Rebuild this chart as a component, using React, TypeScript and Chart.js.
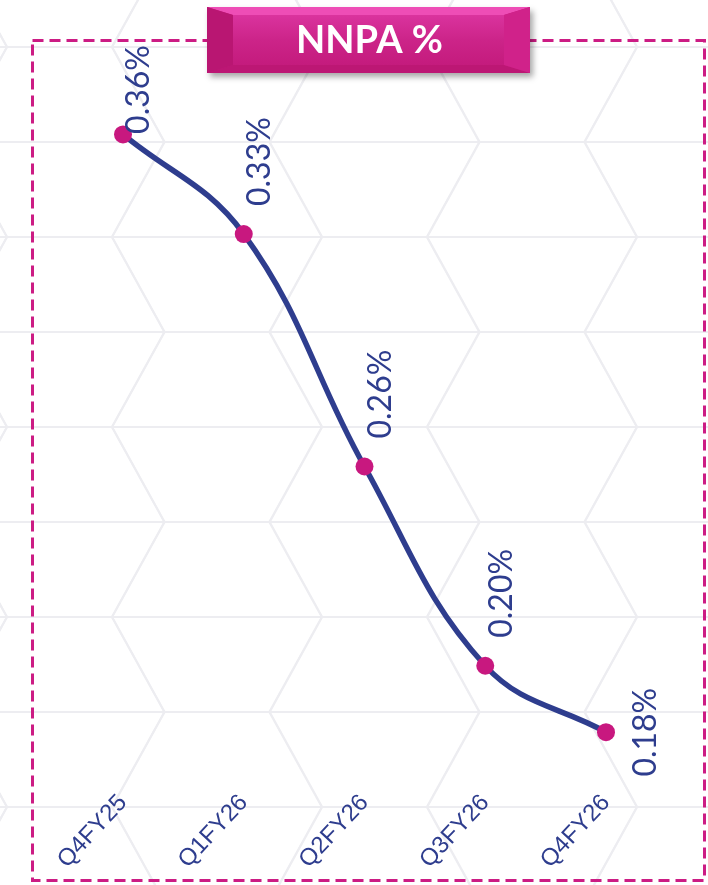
import React, { useEffect, useRef } from 'react';
import { Chart, registerables } from 'chart.js';

Chart.register(...registerables);

// ---- data ----
const categories: string[] = ['Q4FY25', 'Q1FY26', 'Q2FY26', 'Q3FY26', 'Q4FY26'];
const nnpaValues: number[] = [0.36, 0.33, 0.26, 0.2, 0.18];
const chartTitle = 'NNPA %';
const yMin = 0.165;
const yMax = 0.38;

const formatPct = (v: number) => v.toFixed(2) + '%';

// ---- styles ----
const BLUE = '#2E3D8E';
const MAGENTA = '#C8187F';
const HEX_LINE = '#EDEDF1';

const backgroundPlugin = {
  id: 'hexBackground',
  beforeDraw(chart: any) {
    const { ctx, width, height } = chart;
    ctx.save();
    ctx.fillStyle = '#FFFFFF';
    ctx.fillRect(0, 0, width, height);
    ctx.strokeStyle = HEX_LINE;
    ctx.lineWidth = 2;
    const S = 105;
    const H = 95;
    const cx0 = 217;
    const cy0 = 427;
    for (let k = -6; k <= 6; k++) {
      const y = cy0 + k * H;
      if (y < -5 || y > height + 5) continue;
      ctx.beginPath();
      ctx.moveTo(0, y);
      ctx.lineTo(width, y);
      ctx.stroke();
    }
    for (let a = -4; a <= 6; a++) {
      for (let b = -6; b <= 6; b++) {
        const cx = cx0 + a * 1.5 * S;
        const cy = cy0 + a * H + b * 2 * H;
        if (cx < -2 * S || cx > width + 2 * S || cy < -2 * H || cy > height + 2 * H) continue;
        ctx.beginPath();
        ctx.moveTo(cx - S, cy);
        ctx.lineTo(cx - S / 2, cy - H);
        ctx.lineTo(cx + S / 2, cy - H);
        ctx.lineTo(cx + S, cy);
        ctx.lineTo(cx + S / 2, cy + H);
        ctx.lineTo(cx - S / 2, cy + H);
        ctx.closePath();
        ctx.stroke();
      }
    }
    ctx.strokeStyle = '#CC1C84';
    ctx.lineWidth = 3;
    ctx.setLineDash([11, 6]);
    ctx.strokeRect(32.5, 40.5, 672, 840);
    ctx.restore();
  },
};

function poly(ctx: CanvasRenderingContext2D, pts: number[][], fill: string | CanvasGradient) {
  ctx.beginPath();
  ctx.moveTo(pts[0][0], pts[0][1]);
  for (let i = 1; i < pts.length; i++) ctx.lineTo(pts[i][0], pts[i][1]);
  ctx.closePath();
  ctx.fillStyle = fill;
  ctx.fill();
}

const titlePlugin = {
  id: 'titleBox',
  afterDraw(chart: any) {
    const ctx: CanvasRenderingContext2D = chart.ctx;
    const x = 207, y = 7, w = 323, h = 66;
    const bx = 26, by = 8;
    ctx.save();
    ctx.shadowColor = 'rgba(0,0,0,0.35)';
    ctx.shadowBlur = 6;
    ctx.shadowOffsetX = 3;
    ctx.shadowOffsetY = 4;
    ctx.fillStyle = '#C51B7D';
    ctx.fillRect(x, y, w, h);
    ctx.restore();
    ctx.save();
    poly(ctx, [[x, y], [x + w, y], [x + w - bx, y + by], [x + bx, y + by]], '#EE4DB6');
    poly(ctx, [[x, y + h], [x + w, y + h], [x + w - bx, y + h - by], [x + bx, y + h - by]], '#BC1774');
    poly(ctx, [[x, y], [x + bx, y + by], [x + bx, y + h - by], [x, y + h]], '#B91672');
    poly(ctx, [[x + w, y], [x + w - bx, y + by], [x + w - bx, y + h - by], [x + w, y + h]], '#D0228A');
    const g = ctx.createLinearGradient(0, y + by, 0, y + h - by);
    g.addColorStop(0, '#DA339E');
    g.addColorStop(0.5, '#CC2489');
    g.addColorStop(1, '#C41B7D');
    ctx.fillStyle = g;
    ctx.fillRect(x + bx, y + by, w - 2 * bx, h - 2 * by);
    ctx.fillStyle = '#FFFFFF';
    ctx.font = 'bold 38px Lato, "Open Sans", sans-serif';
    ctx.textAlign = 'center';
    ctx.textBaseline = 'middle';
    ctx.fillText(chartTitle, x + w / 2 + 1, y + h / 2 + 1);
    ctx.restore();
  },
};

const valueLabelPlugin = {
  id: 'valueLabels',
  afterDatasetsDraw(chart: any, _args: any, opts: any) {
    const ctx: CanvasRenderingContext2D = chart.ctx;
    const meta = chart.getDatasetMeta(0);
    ctx.save();
    ctx.font = `${opts.size}px ${opts.family}`;
    ctx.fillStyle = opts.color;
    meta.data.forEach((pt: any, i: number) => {
      const text = formatPct(nnpaValues[i]);
      const w = ctx.measureText(text).width;
      let cx: number;
      let bottom: number;
      if (opts.placement[i] === 'right') {
        cx = pt.x + 40;
        bottom = pt.y + w / 2;
      } else {
        cx = pt.x + 16;
        bottom = pt.y - 28;
        if (bottom - w < opts.minTop) bottom = opts.minTop + w;
      }
      ctx.save();
      ctx.translate(cx, bottom);
      ctx.rotate(-Math.PI / 2);
      ctx.textAlign = 'left';
      ctx.textBaseline = 'middle';
      ctx.fillText(text, 0, 0);
      ctx.restore();
    });
    ctx.restore();
  },
};

export default function App() {
  const ref = useRef<HTMLCanvasElement>(null);
  useEffect(() => {
    if (!ref.current) return;
    const chart = new Chart(ref.current, {
      type: 'line',
      data: {
        labels: categories,
        datasets: [
          {
            label: chartTitle,
            data: nnpaValues,
            borderColor: BLUE,
            borderWidth: 5.5,
            tension: 0.4,
            pointRadius: 9,
            pointHoverRadius: 9,
            pointBackgroundColor: MAGENTA,
            pointBorderWidth: 0,
            pointBorderColor: MAGENTA,
            clip: false as any,
          },
        ],
      },
      options: {
        responsive: false,
        animation: false,
        devicePixelRatio: 1,
        layout: { padding: { left: 123, right: 102, top: 68, bottom: 4 } },
        plugins: {
          legend: { display: false },
          title: { display: false },
          tooltip: { enabled: false },
          valueLabels: {
            size: 32,
            family: 'Lato, "Open Sans", sans-serif',
            color: BLUE,
            minTop: 45,
            placement: ['above', 'above', 'above', 'above', 'right'],
          },
        } as any,
        scales: {
          x: {
            offset: false,
            grid: { display: false, drawTicks: false },
            border: { display: false },
            ticks: {
              color: BLUE,
              font: { family: '"Liberation Sans", Arial, sans-serif', size: 24 },
              minRotation: 47,
              maxRotation: 47,
              padding: 7,
              autoSkip: false,
            },
          },
          y: {
            display: false,
            min: yMin,
            max: yMax,
          },
        },
      },
      plugins: [backgroundPlugin, valueLabelPlugin, titlePlugin],
    });
    return () => chart.destroy();
  }, []);
  return (
    <div style={{ position: 'absolute', left: 0, top: 0, width: 708, height: 885 }}>
      <canvas ref={ref} width={708} height={885} style={{ display: 'block' }} />
    </div>
  );
}
